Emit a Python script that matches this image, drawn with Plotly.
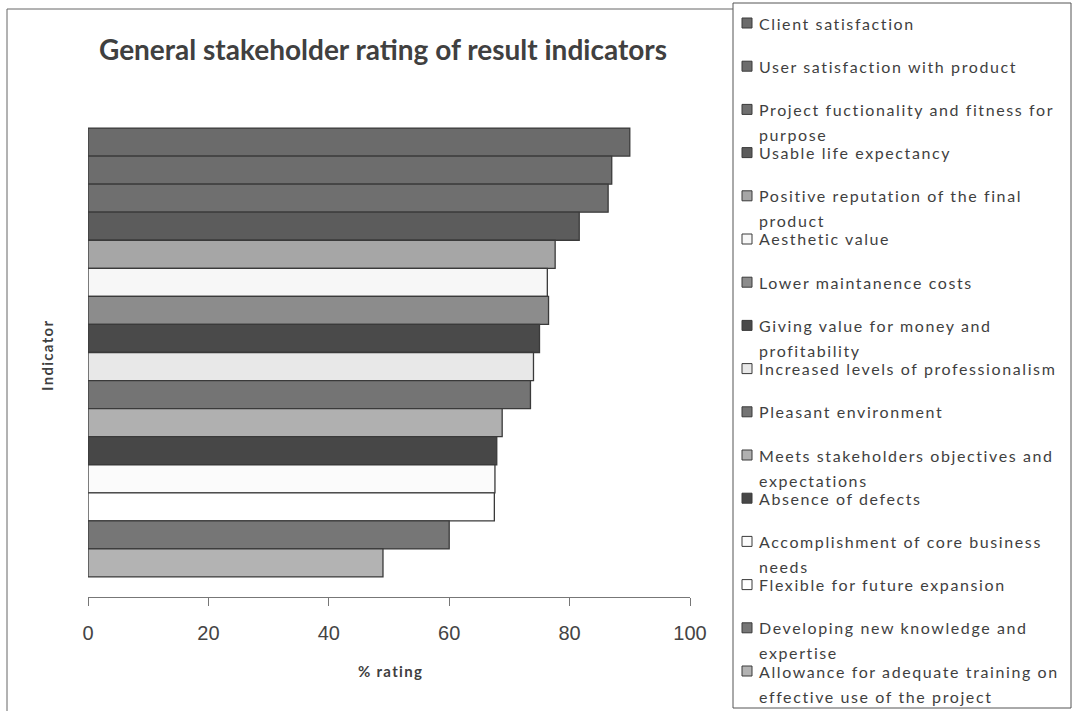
import plotly.graph_objects as go

# Indicators in ranking order (top bar first) and their % ratings
indicators = [
    "Client satisfaction",
    "User satisfaction with product",
    "Project fuctionality and fitness for purpose",
    "Usable life expectancy",
    "Positive reputation of the final product",
    "Aesthetic value",
    "Lower maintanence costs",
    "Giving value for money and profitability",
    "Increased levels of professionalism",
    "Pleasant environment",
    "Meets stakeholders objectives and expectations",
    "Absence of defects",
    "Accomplishment of core business needs",
    "Flexible for future expansion",
    "Developing new knowledge and expertise",
    "Allowance for adequate training on effective use of the project",
]
ratings = [90.0, 87.0, 86.4, 81.6, 77.6, 76.3, 76.5, 75.0,
           74.0, 73.5, 68.8, 67.9, 67.6, 67.5, 60.0, 49.0]

# How each indicator name wraps in the key box
legend_lines = [
    ["Client satisfaction"],
    ["User satisfaction with product"],
    ["Project fuctionality and fitness for", "purpose"],
    ["Usable life expectancy"],
    ["Positive reputation of the final", "product"],
    ["Aesthetic value"],
    ["Lower maintanence costs"],
    ["Giving value for money and", "profitability"],
    ["Increased levels of professionalism"],
    ["Pleasant environment"],
    ["Meets stakeholders objectives and", "expectations"],
    ["Absence of defects"],
    ["Accomplishment of core business", "needs"],
    ["Flexible for future expansion"],
    ["Developing new knowledge and", "expertise"],
    ["Allowance for adequate training on", "effective use of the project"],
]

fills = ["#6b6b6b", "#6d6d6d", "#6f6f6f", "#5c5c5c", "#a6a6a6", "#f7f7f7",
         "#8c8c8c", "#4a4a4a", "#e8e8e8", "#747474", "#b0b0b0", "#474747",
         "#fbfbfb", "#ffffff", "#767676", "#b3b3b3"]

x_ticks = [0, 20, 40, 60, 80, 100]

W, H = 1074, 711
L, R, T, B = 88, 384, 108, 114
PW, PH = W - L - R, H - T - B


def px(x):
    return (x - L) / PW


def py(y):
    return 1 - (y - T) / PH


def spaced(text, gap):
    return f'<span style="letter-spacing:{gap}px">{text}</span>'


fig = go.Figure()
for name, val, col in zip(indicators, ratings, fills):
    fig.add_trace(go.Bar(
        x=[val], y=["Indicator"], name=name, orientation="h",
        marker=dict(color=col, line=dict(color="#3a3a3a", width=1.3)),
        showlegend=False,
    ))

text_col = "#3f3f3f"
annotations = []
shapes = []

# Key box at the right
shapes.append(dict(type="rect", xref="paper", yref="paper",
                   x0=px(733), x1=px(1071), y0=py(708), y1=py(3),
                   line=dict(color="#555555", width=1), fillcolor="rgba(0,0,0,0)"))
# Chart frame
shapes.append(dict(type="line", xref="paper", yref="paper",
                   x0=px(7), x1=px(7), y0=py(711), y1=py(9),
                   line=dict(color="#666666", width=1)))
shapes.append(dict(type="line", xref="paper", yref="paper",
                   x0=px(7), x1=px(733), y0=py(9), y1=py(9),
                   line=dict(color="#666666", width=1)))

row0, step, wrap = 23, 43.2, 25
for i, (lines, col) in enumerate(zip(legend_lines, fills)):
    yc = row0 + step * i
    shapes.append(dict(type="rect", xref="paper", yref="paper",
                       x0=px(742), x1=px(752), y0=py(yc + 5), y1=py(yc - 5),
                       fillcolor=col, line=dict(color="#3a3a3a", width=1)))
    for j, line in enumerate(lines):
        annotations.append(dict(
            text=spaced(line, 1.6), xref="paper", yref="paper",
            x=px(757), y=py(yc + j * wrap), xanchor="left", yanchor="middle",
            showarrow=False,
            font=dict(family="Lato", size=16, color=text_col),
        ))

# Axis titles
annotations.append(dict(text=spaced("<b>Indicator</b>", 1.3), xref="paper", yref="paper",
                        x=px(47), y=py(356), xanchor="center", yanchor="middle",
                        textangle=-90, showarrow=False,
                        font=dict(family="Lato", size=15, color=text_col)))
annotations.append(dict(text=spaced("<b>% rating</b>", 1.3), xref="paper", yref="paper",
                        x=px(390), y=py(671), xanchor="center", yanchor="middle",
                        showarrow=False,
                        font=dict(family="Lato", size=15, color=text_col)))

fig.update_layout(
    width=W, height=H,
    margin=dict(l=L, r=R, t=T, b=B),
    paper_bgcolor="white", plot_bgcolor="white",
    barmode="group", bargap=0.082, bargroupgap=0,
    title=dict(text="<b>General stakeholder rating of result indicators</b>",
               xref="paper", x=px(383), xanchor="center",
               yref="container", y=1 - 50 / H, yanchor="middle",
               font=dict(family="Lato", size=28, color="#404040")),
    xaxis=dict(range=[0, 100], tickvals=x_ticks, ticks="outside", ticklen=8,
               tickcolor="#777777", showline=True, linecolor="#777777",
               linewidth=1, showgrid=False, zeroline=False,
               tickfont=dict(family="Liberation Sans", size=20, color="#444444"),
               ticklabelstandoff=10),
    yaxis=dict(type="category", autorange="reversed", showticklabels=False,
               showline=False, showgrid=False, zeroline=False, ticks=""),
    annotations=annotations,
    shapes=shapes,
    showlegend=False,
)

fig.write_html("out.html")
